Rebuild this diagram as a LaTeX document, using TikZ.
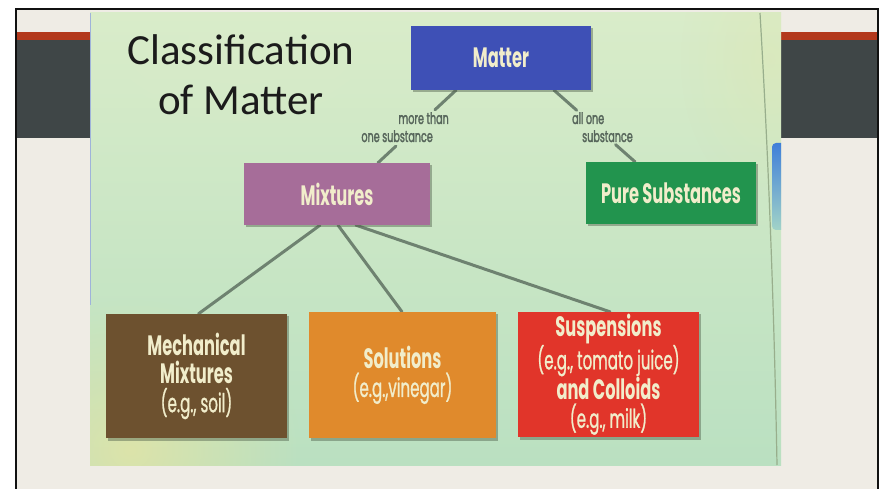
\documentclass[tikz,border=0pt]{standalone}
\usepackage{fontspec}
\setmainfont{Carlito}
\newfontfamily\cond[FakeStretch=0.58]{Poppins}
\newfontfamily\condm[FakeStretch=0.58, FakeBold=0.9]{Poppins}
\newfontfamily\condl[FakeStretch=0.60, FakeBold=1.6]{Poppins}
\usetikzlibrary{shadows,fadings,calc}
\definecolor{slidebg}{HTML}{EFECE5}
\definecolor{frame}{HTML}{111111}
\definecolor{redband}{HTML}{B3391C}
\definecolor{darkband}{HTML}{3F4647}
\definecolor{phtop}{HTML}{D9ECC9}
\definecolor{phmid}{HTML}{B3E2C5}
\definecolor{phbot}{HTML}{BAE0C1}
\definecolor{yellowtint}{HTML}{E2E4A6}
\definecolor{foldc}{HTML}{98AE8C}
\definecolor{bluetab}{HTML}{3F7FD9}
\definecolor{mattc}{HTML}{3E50B6}
\definecolor{mixc}{HTML}{A66D99}
\definecolor{purec}{HTML}{22944E}
\definecolor{mechc}{HTML}{6D512F}
\definecolor{solc}{HTML}{E08A2C}
\definecolor{suspc}{HTML}{E1352A}
\definecolor{boxtext}{HTML}{F1EDCB}
\definecolor{lblc}{HTML}{56655A}
\definecolor{connc}{HTML}{6E8270}
\definecolor{shadowc}{HTML}{4F5F4A}
\definecolor{titlec}{HTML}{1B1B1B}
\definecolor{edgeblue}{HTML}{9FB3DA}
\tikzfading[name=fadeBL, inner color=transparent!0, outer color=transparent!100]
\pgfdeclarelayer{bg}
\pgfdeclarelayer{lines}
\pgfsetlayers{bg,lines,main}
\tikzset{
  conn/.style={draw=connc, line width=3pt, line cap=round},
  box/.style={inner sep=0pt, text=boxtext, align=center,
    drop shadow={shadow xshift=2pt, shadow yshift=-2.5pt, opacity=.45, fill=shadowc}},
  big/.style={font=\cond\bfseries\fontsize{28}{28.5}\selectfont},
  multi/.style={font=\condm\fontsize{26}{28.5}\selectfont},
  lbl/.style={inner sep=0pt, text=lblc, font=\condl\fontsize{16}{18}\selectfont},
  ttl/.style={inner sep=0pt, anchor=base, text=titlec, font=\fontsize{43}{50}\selectfont}
}
\newcommand{\hd}[1]{{\cond\bfseries\fontsize{28}{28.5}\selectfont #1}}
\begin{document}
\begin{tikzpicture}[x=1pt,y=-1pt]
\useasboundingbox (0,0) rectangle (879,489);
\begin{pgfonlayer}{bg}
  % slide
  \fill[white] (0,0) rectangle (879,489);
  \fill[slidebg] (16,9) rectangle (878,489);
  \fill[redband] (16,32) rectangle (878,40);
  \fill[darkband] (16,40) rectangle (878,138);
  \draw[frame, line width=2.5pt] (16,489) -- (16,9) -- (878,9) -- (878,489);
  % photo
  \shade[top color=phtop, middle color=phmid, bottom color=phbot] (90,13) rectangle (781,465);
  \begin{scope}
    \clip (90,13) rectangle (781,465);
    \fill[yellowtint, path fading=fadeBL, fill opacity=.85] (-40,300) rectangle (300,600);
    \fill[phtop, path fading=fadeBL, fill opacity=.7] (60,-60) rectangle (420,140);
    \fill[yellowtint, path fading=fadeBL, fill opacity=.3] (680,-80) rectangle (860,200);
    \draw[foldc, line width=1.2pt] (760,13) .. controls (768,150) and (774,300) .. (777,465);
    \shade[top color=bluetab, bottom color=bluetab!15!phmid, rounded corners=4pt] (772,143) rectangle (786,230);
  \end{scope}
  \draw[edgeblue, line width=1.5pt] (90.5,13) -- (90.5,305);
\end{pgfonlayer}

% title
\node[ttl] (t1) at (241,65) {Classification};
\node[ttl] (t2) at (241,115) {of Matter};

% boxes
\node[box, big, fill=mattc, minimum width=180, minimum height=64] (matter) at (501,58) {Matter};
\node[box, big, fill=mixc, minimum width=186, minimum height=62] (mix) at (337,194) {Mixtures};
\node[box, big, fill=purec, minimum width=170, minimum height=62] (pure) at (671,193) {Pure Substances};
\node[box, multi, fill=mechc, minimum width=181, minimum height=124] (mech) at (196.5,376)
  {\hd{Mechanical}\\\hd{Mixtures}\\(e.g., soil)};
\node[box, multi, fill=solc, minimum width=187, minimum height=126] (sol) at (402.5,375)
  {\hd{Solutions}\\(e.g.,vinegar)};
\node[box, multi, fill=suspc, minimum width=181, minimum height=125, font=\condm\fontsize{26}{28}\selectfont] (susp) at (608.5,374.5)
  {\hd{Suspensions}\\(e.g., tomato juice)\\\hd{and Colloids}\\(e.g., milk)};

% connector labels
\node[lbl, anchor=base east] (l1) at (449,124) {more than};
\node[lbl, anchor=base east] (l2) at (433,142) {one substance};
\node[lbl, anchor=base west] (l3) at (572,124) {all one};
\node[lbl, anchor=base west] (l4) at (582,142) {substance};

% connectors
\coordinate (mA) at ([xshift=-45]matter.south);
\coordinate (mB) at ([xshift=53]matter.south);
\coordinate (xA) at ([xshift=41]mix.north);
\coordinate (pA) at ([xshift=-36]pure.north);
\begin{pgfonlayer}{lines}
  \draw[conn] (mA) -- ($(mA)!0.27!(xA)$);
  \draw[conn] ($(mA)!0.77!(xA)$) -- (xA);
  \draw[conn] (mB) -- ($(mB)!0.28!(pA)$);
  \draw[conn] ($(mB)!0.76!(pA)$) -- (pA);
  \draw[conn] ([xshift=-17]mix.south) -- ([xshift=2]mech.north);
  \draw[conn] ([xshift=1]mix.south) -- ([xshift=-0.5]sol.north);
  \draw[conn] ([xshift=19]mix.south) -- ([xshift=1.5]susp.north);
\end{pgfonlayer}
\end{tikzpicture}
\end{document}
